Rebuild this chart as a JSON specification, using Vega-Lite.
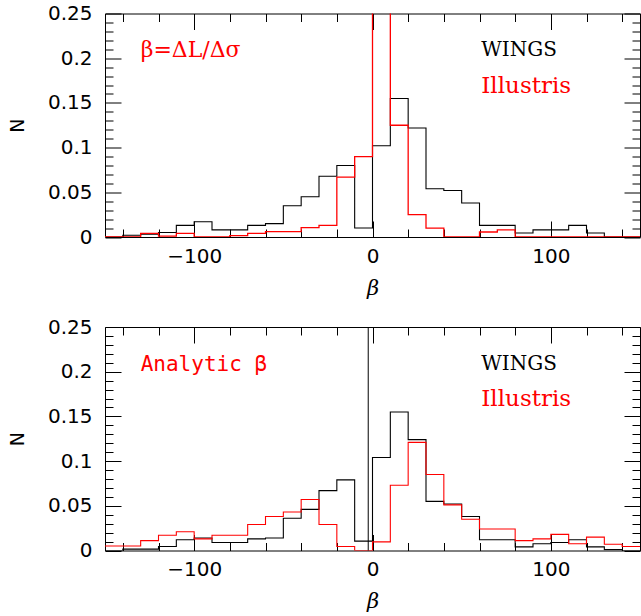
{
  "$schema": "https://vega.github.io/schema/vega-lite/v6.json",
  "padding": {"left": 7, "top": 2.5, "right": 0, "bottom": 0},
  "background": "white",
  "config": {
    "view": {"stroke": "black", "strokeWidth": 1},
    "axis": {
      "domain": false, "grid": false, "tickColor": "black", "tickWidth": 1,
      "labelColor": "black", "labelFont": "DejaVu Sans", "labelFontSize": 20,
      "titleColor": "black", "titleFont": "DejaVu Sans", "titleFontSize": 19, "titleFontWeight": "normal",
      "labelOverlap": false, "labelFlush": false
    },
    "text": {"font": "DejaVu Serif"}
  },
  "datasets": {
    "top": [
      {"beta": -150, "series": "WINGS", "N": 0}, {"beta": -140, "series": "WINGS", "N": 0.002}, {"beta": -130, "series": "WINGS", "N": 0.003},
      {"beta": -120, "series": "WINGS", "N": 0.005}, {"beta": -110, "series": "WINGS", "N": 0.013}, {"beta": -100, "series": "WINGS", "N": 0.017},
      {"beta": -90, "series": "WINGS", "N": 0.008}, {"beta": -80, "series": "WINGS", "N": 0.008}, {"beta": -70, "series": "WINGS", "N": 0.013},
      {"beta": -60, "series": "WINGS", "N": 0.015}, {"beta": -50, "series": "WINGS", "N": 0.035}, {"beta": -40, "series": "WINGS", "N": 0.045},
      {"beta": -30, "series": "WINGS", "N": 0.068}, {"beta": -20, "series": "WINGS", "N": 0.080}, {"beta": -10, "series": "WINGS", "N": 0.010},
      {"beta": 0, "series": "WINGS", "N": 0.102}, {"beta": 10, "series": "WINGS", "N": 0.155}, {"beta": 20, "series": "WINGS", "N": 0.122},
      {"beta": 30, "series": "WINGS", "N": 0.054}, {"beta": 40, "series": "WINGS", "N": 0.052}, {"beta": 50, "series": "WINGS", "N": 0.038},
      {"beta": 60, "series": "WINGS", "N": 0.013}, {"beta": 70, "series": "WINGS", "N": 0.013}, {"beta": 80, "series": "WINGS", "N": 0.0045},
      {"beta": 90, "series": "WINGS", "N": 0.008}, {"beta": 100, "series": "WINGS", "N": 0.008}, {"beta": 110, "series": "WINGS", "N": 0.013},
      {"beta": 120, "series": "WINGS", "N": 0.0045}, {"beta": 130, "series": "WINGS", "N": 0}, {"beta": 140, "series": "WINGS", "N": 0},
      {"beta": 150, "series": "WINGS", "N": 0},
      {"beta": -150, "series": "Illustris", "N": 0}, {"beta": -140, "series": "Illustris", "N": 0}, {"beta": -130, "series": "Illustris", "N": 0.004},
      {"beta": -120, "series": "Illustris", "N": 0.001}, {"beta": -110, "series": "Illustris", "N": 0.004}, {"beta": -100, "series": "Illustris", "N": 0},
      {"beta": -90, "series": "Illustris", "N": 0}, {"beta": -80, "series": "Illustris", "N": 0.0015}, {"beta": -70, "series": "Illustris", "N": 0.004},
      {"beta": -60, "series": "Illustris", "N": 0.006}, {"beta": -50, "series": "Illustris", "N": 0.006}, {"beta": -40, "series": "Illustris", "N": 0.0105},
      {"beta": -30, "series": "Illustris", "N": 0.013}, {"beta": -20, "series": "Illustris", "N": 0.067}, {"beta": -10, "series": "Illustris", "N": 0.090},
      {"beta": 0, "series": "Illustris", "N": 0.3}, {"beta": 10, "series": "Illustris", "N": 0.125}, {"beta": 20, "series": "Illustris", "N": 0.025},
      {"beta": 30, "series": "Illustris", "N": 0.010}, {"beta": 40, "series": "Illustris", "N": 0}, {"beta": 50, "series": "Illustris", "N": 0},
      {"beta": 60, "series": "Illustris", "N": 0.0056}, {"beta": 70, "series": "Illustris", "N": 0.008}, {"beta": 80, "series": "Illustris", "N": 0},
      {"beta": 90, "series": "Illustris", "N": 0}, {"beta": 100, "series": "Illustris", "N": 0}, {"beta": 110, "series": "Illustris", "N": 0},
      {"beta": 120, "series": "Illustris", "N": 0}, {"beta": 130, "series": "Illustris", "N": 0}, {"beta": 140, "series": "Illustris", "N": 0},
      {"beta": 150, "series": "Illustris", "N": 0}
    ],
    "bottom": [
      {"beta": -150, "series": "WINGS", "N": 0}, {"beta": -140, "series": "WINGS", "N": 0.0015}, {"beta": -130, "series": "WINGS", "N": 0.0015},
      {"beta": -120, "series": "WINGS", "N": 0.0045}, {"beta": -110, "series": "WINGS", "N": 0.012}, {"beta": -100, "series": "WINGS", "N": 0.014},
      {"beta": -90, "series": "WINGS", "N": 0.009}, {"beta": -80, "series": "WINGS", "N": 0.009}, {"beta": -70, "series": "WINGS", "N": 0.013},
      {"beta": -60, "series": "WINGS", "N": 0.014}, {"beta": -50, "series": "WINGS", "N": 0.036}, {"beta": -40, "series": "WINGS", "N": 0.046},
      {"beta": -30, "series": "WINGS", "N": 0.067}, {"beta": -20, "series": "WINGS", "N": 0.079}, {"beta": -10, "series": "WINGS", "N": 0.0105},
      {"beta": 0, "series": "WINGS", "N": 0.104}, {"beta": 10, "series": "WINGS", "N": 0.155}, {"beta": 20, "series": "WINGS", "N": 0.124},
      {"beta": 30, "series": "WINGS", "N": 0.055}, {"beta": 40, "series": "WINGS", "N": 0.052}, {"beta": 50, "series": "WINGS", "N": 0.038},
      {"beta": 60, "series": "WINGS", "N": 0.012}, {"beta": 70, "series": "WINGS", "N": 0.012}, {"beta": 80, "series": "WINGS", "N": 0.004},
      {"beta": 90, "series": "WINGS", "N": 0.0075}, {"beta": 100, "series": "WINGS", "N": 0.009}, {"beta": 110, "series": "WINGS", "N": 0.012},
      {"beta": 120, "series": "WINGS", "N": 0.004}, {"beta": 130, "series": "WINGS", "N": 0.001}, {"beta": 140, "series": "WINGS", "N": 0},
      {"beta": 150, "series": "WINGS", "N": 0},
      {"beta": -150, "series": "Illustris", "N": 0.005}, {"beta": -140, "series": "Illustris", "N": 0.005}, {"beta": -130, "series": "Illustris", "N": 0.011},
      {"beta": -120, "series": "Illustris", "N": 0.017}, {"beta": -110, "series": "Illustris", "N": 0.021}, {"beta": -100, "series": "Illustris", "N": 0.013},
      {"beta": -90, "series": "Illustris", "N": 0.017}, {"beta": -80, "series": "Illustris", "N": 0.017}, {"beta": -70, "series": "Illustris", "N": 0.029},
      {"beta": -60, "series": "Illustris", "N": 0.038}, {"beta": -50, "series": "Illustris", "N": 0.043}, {"beta": -40, "series": "Illustris", "N": 0.057},
      {"beta": -30, "series": "Illustris", "N": 0.029}, {"beta": -20, "series": "Illustris", "N": 0.0045}, {"beta": -10, "series": "Illustris", "N": 0},
      {"beta": 0, "series": "Illustris", "N": 0.0097}, {"beta": 10, "series": "Illustris", "N": 0.073}, {"beta": 20, "series": "Illustris", "N": 0.121},
      {"beta": 30, "series": "Illustris", "N": 0.085}, {"beta": 40, "series": "Illustris", "N": 0.051}, {"beta": 50, "series": "Illustris", "N": 0.035},
      {"beta": 60, "series": "Illustris", "N": 0.024}, {"beta": 70, "series": "Illustris", "N": 0.024}, {"beta": 80, "series": "Illustris", "N": 0.011},
      {"beta": 90, "series": "Illustris", "N": 0.013}, {"beta": 100, "series": "Illustris", "N": 0.018}, {"beta": 110, "series": "Illustris", "N": 0.0075},
      {"beta": 120, "series": "Illustris", "N": 0.015}, {"beta": 130, "series": "Illustris", "N": 0.007}, {"beta": 140, "series": "Illustris", "N": 0.0045},
      {"beta": 150, "series": "Illustris", "N": 0.0045}
    ],
    "notes_top": [
      {"beta": -130, "N": 0.209, "label": "β=ΔL/Δσ", "kind": "note"},
      {"beta": 61, "N": 0.209, "label": "WINGS", "kind": "wings"},
      {"beta": 61, "N": 0.169, "label": "Illustris", "kind": "illustris"}
    ],
    "notes_bottom": [
      {"beta": -130, "N": 0.208, "label": "Analytic β", "kind": "note"},
      {"beta": 61, "N": 0.209, "label": "WINGS", "kind": "wings"},
      {"beta": 61, "N": 0.170, "label": "Illustris", "kind": "illustris"}
    ],
    "vline": [{"beta": -2.4}]
  },
  "vconcat": [
    {
      "width": 535, "height": 223.5,
      "layer": [
        {
          "data": {"name": "top"},
          "transform": [{"filter": "datum.series === 'WINGS'"}],
          "mark": {"type": "line", "interpolate": "step-after", "color": "black", "strokeWidth": 1.1, "clip": true},
          "encoding": {
            "x": {"field": "beta", "type": "quantitative", "scale": {"domain": [-150, 150], "nice": false, "zero": false},
                  "axis": {"orient": "bottom", "values": [-100, 0, 100], "tickSize": -16, "labelPadding": 25, "format": "d", "title": "β", "titleFont": "DejaVu Serif", "titleFontStyle": "italic", "titleFontSize": 21, "titlePadding": 11}},
            "y": {"field": "N", "type": "quantitative", "scale": {"domain": [0, 0.25], "nice": false, "zero": false},
                  "axis": {"orient": "left", "values": [0, 0.05, 0.1, 0.15, 0.2, 0.25], "tickSize": -16, "labelPadding": 29, "format": "~g", "title": "N", "titlePadding": 20}}
          }
        },
        {
          "data": {"name": "top"},
          "transform": [{"filter": "datum.series === 'Illustris'"}],
          "mark": {"type": "line", "interpolate": "step-after", "color": "#ff0000", "strokeWidth": 1.3, "clip": true},
          "encoding": {
            "x": {"field": "beta", "type": "quantitative", "scale": {"domain": [-150, 150], "nice": false, "zero": false},
                  "axis": {"orient": "top", "values": [-100, 0, 100], "tickSize": -16, "labels": false, "title": null}},
            "y": {"field": "N", "type": "quantitative", "scale": {"domain": [0, 0.25], "nice": false, "zero": false},
                  "axis": {"orient": "right", "values": [0, 0.05, 0.1, 0.15, 0.2, 0.25], "tickSize": -16, "labels": false, "title": null}}
          }
        },
        {
          "data": {"name": "notes_top"},
          "transform": [{"filter": "datum.kind === 'wings'"}],
          "mark": {"type": "text", "align": "left", "baseline": "middle", "font": "DejaVu Serif", "fontSize": 20, "color": "black"},
          "encoding": {
            "x": {"field": "beta", "type": "quantitative", "axis": {"orient": "bottom", "values": [-140, -120, -80, -60, -40, -20, 20, 40, 60, 80, 120, 140], "tickSize": -8, "labels": false, "title": null}},
            "y": {"field": "N", "type": "quantitative", "axis": {"orient": "left", "values": [0.01, 0.02, 0.03, 0.04, 0.06, 0.07, 0.08, 0.09, 0.11, 0.12, 0.13, 0.14, 0.16, 0.17, 0.18, 0.19, 0.21, 0.22, 0.23, 0.24], "tickSize": -8, "labels": false, "title": null}},
            "text": {"field": "label"}
          }
        },
        {
          "data": {"name": "notes_top"},
          "transform": [{"filter": "datum.kind === 'illustris'"}],
          "mark": {"type": "text", "align": "left", "baseline": "middle", "font": "DejaVu Serif", "fontSize": 23, "color": "#ff0000"},
          "encoding": {
            "x": {"field": "beta", "type": "quantitative", "axis": {"orient": "top", "values": [-140, -120, -80, -60, -40, -20, 20, 40, 60, 80, 120, 140], "tickSize": -8, "labels": false, "title": null}},
            "y": {"field": "N", "type": "quantitative", "axis": {"orient": "right", "values": [0.01, 0.02, 0.03, 0.04, 0.06, 0.07, 0.08, 0.09, 0.11, 0.12, 0.13, 0.14, 0.16, 0.17, 0.18, 0.19, 0.21, 0.22, 0.23, 0.24], "tickSize": -8, "labels": false, "title": null}},
            "text": {"field": "label"}
          }
        },
        {
          "data": {"name": "notes_top"},
          "transform": [{"filter": "datum.kind === 'note'"}],
          "mark": {"type": "text", "align": "left", "baseline": "middle", "font": "DejaVu Serif", "fontSize": 22, "color": "#ff0000"},
          "encoding": {
            "x": {"field": "beta", "type": "quantitative", "axis": null},
            "y": {"field": "N", "type": "quantitative", "axis": null},
            "text": {"field": "label"}
          }
        }
      ],
      "resolve": {"axis": {"x": "independent", "y": "independent"}}
    },
    {
      "width": 535, "height": 223.5,
      "layer": [
        {
          "data": {"name": "bottom"},
          "transform": [{"filter": "datum.series === 'WINGS'"}],
          "mark": {"type": "line", "interpolate": "step-after", "color": "black", "strokeWidth": 1.1, "clip": true},
          "encoding": {
            "x": {"field": "beta", "type": "quantitative", "scale": {"domain": [-150, 150], "nice": false, "zero": false},
                  "axis": {"orient": "bottom", "values": [-100, 0, 100], "tickSize": -16, "labelPadding": 25, "format": "d", "title": "β", "titleFont": "DejaVu Serif", "titleFontStyle": "italic", "titleFontSize": 21, "titlePadding": 11}},
            "y": {"field": "N", "type": "quantitative", "scale": {"domain": [0, 0.25], "nice": false, "zero": false},
                  "axis": {"orient": "left", "values": [0, 0.05, 0.1, 0.15, 0.2, 0.25], "tickSize": -16, "labelPadding": 29, "format": "~g", "title": "N", "titlePadding": 20}}
          }
        },
        {
          "data": {"name": "bottom"},
          "transform": [{"filter": "datum.series === 'Illustris'"}],
          "mark": {"type": "line", "interpolate": "step-after", "color": "#ff0000", "strokeWidth": 1.1, "clip": true},
          "encoding": {
            "x": {"field": "beta", "type": "quantitative", "scale": {"domain": [-150, 150], "nice": false, "zero": false},
                  "axis": {"orient": "top", "values": [-100, 0, 100], "tickSize": -16, "labels": false, "title": null}},
            "y": {"field": "N", "type": "quantitative", "scale": {"domain": [0, 0.25], "nice": false, "zero": false},
                  "axis": {"orient": "right", "values": [0, 0.05, 0.1, 0.15, 0.2, 0.25], "tickSize": -16, "labels": false, "title": null}}
          }
        },
        {
          "data": {"name": "notes_bottom"},
          "transform": [{"filter": "datum.kind === 'wings'"}],
          "mark": {"type": "text", "align": "left", "baseline": "middle", "font": "DejaVu Serif", "fontSize": 20, "color": "black"},
          "encoding": {
            "x": {"field": "beta", "type": "quantitative", "axis": {"orient": "bottom", "values": [-140, -120, -80, -60, -40, -20, 20, 40, 60, 80, 120, 140], "tickSize": -8, "labels": false, "title": null}},
            "y": {"field": "N", "type": "quantitative", "axis": {"orient": "left", "values": [0.01, 0.02, 0.03, 0.04, 0.06, 0.07, 0.08, 0.09, 0.11, 0.12, 0.13, 0.14, 0.16, 0.17, 0.18, 0.19, 0.21, 0.22, 0.23, 0.24], "tickSize": -8, "labels": false, "title": null}},
            "text": {"field": "label"}
          }
        },
        {
          "data": {"name": "notes_bottom"},
          "transform": [{"filter": "datum.kind === 'illustris'"}],
          "mark": {"type": "text", "align": "left", "baseline": "middle", "font": "DejaVu Serif", "fontSize": 23, "color": "#ff0000"},
          "encoding": {
            "x": {"field": "beta", "type": "quantitative", "axis": {"orient": "top", "values": [-140, -120, -80, -60, -40, -20, 20, 40, 60, 80, 120, 140], "tickSize": -8, "labels": false, "title": null}},
            "y": {"field": "N", "type": "quantitative", "axis": {"orient": "right", "values": [0.01, 0.02, 0.03, 0.04, 0.06, 0.07, 0.08, 0.09, 0.11, 0.12, 0.13, 0.14, 0.16, 0.17, 0.18, 0.19, 0.21, 0.22, 0.23, 0.24], "tickSize": -8, "labels": false, "title": null}},
            "text": {"field": "label"}
          }
        },
        {
          "data": {"name": "notes_bottom"},
          "transform": [{"filter": "datum.kind === 'note'"}],
          "mark": {"type": "text", "align": "left", "baseline": "middle", "font": "DejaVu Sans Mono", "fontSize": 21, "color": "#ff0000"},
          "encoding": {
            "x": {"field": "beta", "type": "quantitative", "axis": null},
            "y": {"field": "N", "type": "quantitative", "axis": null},
            "text": {"field": "label"}
          }
        },
        {
          "data": {"name": "vline"},
          "mark": {"type": "rule", "color": "black", "strokeWidth": 1},
          "encoding": {
            "x": {"field": "beta", "type": "quantitative", "axis": null}
          }
        }
      ],
      "resolve": {"axis": {"x": "independent", "y": "independent"}}
    }
  ],
  "spacing": 89.5,
  "bounds": "flush"
}
